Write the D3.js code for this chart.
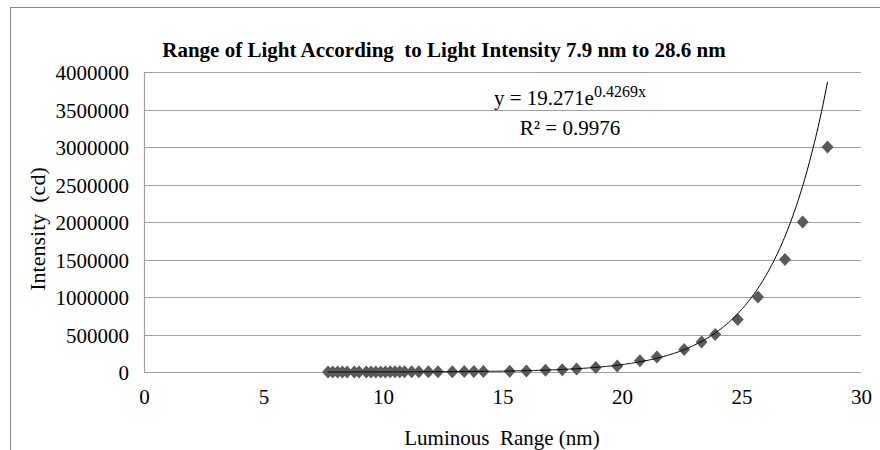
<!DOCTYPE html>
<html>
<head>
<meta charset="utf-8">
<script src="https://cdn.jsdelivr.net/npm/d3@7"></script>
<style>
  body { margin: 0; background: #fff; }
  svg text { font-family: "Liberation Serif", "DejaVu Serif", serif !important; fill: #000; }
</style>
</head>
<body>
<svg width="880" height="450"></svg>
<script>
const svg = d3.select("svg");
const width = +svg.attr("width");
const height = +svg.attr("height");

const margin = { top: 72, right: 19, bottom: 76, left: 144 };
const serif = "'Liberation Serif', 'DejaVu Serif', serif";

// ---- data ----
const luminousRange = [
  7.7, 7.9, 8.1, 8.3, 8.5, 8.8, 9.0, 9.3, 9.5, 9.7, 9.9, 10.1, 10.3, 10.5, 10.7, 10.9,
  11.2, 11.5, 11.9, 12.3, 12.9, 13.4, 13.8, 14.2,
  15.3, 16.0, 16.8, 17.5, 18.1, 18.9, 19.8, 20.75, 21.46, 22.6, 23.33, 23.9,
  24.84, 25.69, 26.82, 27.56, 28.6
];
const intensity = [
  500, 600, 700, 700, 800, 900, 1000, 1000, 1200, 1300, 1500, 1500, 1700, 2000, 2000, 2000,
  2500, 3000, 3000, 4000, 5000, 6000, 7000, 8000,
  10000, 15000, 25000, 30000, 40000, 60000, 80000, 150000, 200000, 300000, 400000, 500000,
  700000, 1000000, 1500000, 2000000, 3000000
];
const xTicks = [0, 5, 10, 15, 20, 25, 30];
const yTicks = [0, 500000, 1000000, 1500000, 2000000, 2500000, 3000000, 3500000, 4000000];

// exponential trendline  y = a * e^(b x)
const trendA = 19.271;
const trendB = 0.4269;
const rSquared = "0.9976";

const points = luminousRange.map((x, i) => ({ x: x, y: intensity[i] }));

const x = d3.scaleLinear().domain([0, 30]).range([margin.left, width - margin.right]);
const y = d3.scaleLinear().domain([0, 4000000]).range([height - margin.bottom - 2, margin.top]);

// chart border (cut off at right/bottom like the reference)
svg.append("rect")
  .attr("x", 10.5).attr("y", 7.5)
  .attr("width", 900).attr("height", 500)
  .attr("fill", "none")
  .attr("stroke", "#8c8c8c");

// gridlines
svg.append("g")
  .selectAll("line")
  .data(yTicks)
  .join("line")
  .attr("x1", x(0)).attr("x2", x(30))
  .attr("y1", d => Math.round(y(d)) + 0.5)
  .attr("y2", d => Math.round(y(d)) + 0.5)
  .attr("stroke", "#a0a0a0")
  .attr("stroke-width", 1.2);

// left axis line
svg.append("line")
  .attr("x1", x(0) + 0.5).attr("x2", x(0) + 0.5)
  .attr("y1", y(4000000)).attr("y2", y(0))
  .attr("stroke", "#a0a0a0")
  .attr("stroke-width", 1.2);

// y tick labels
const yAxis = svg.append("g")
  .attr("transform", `translate(${x(0) - 15},0)`)
  .call(d3.axisLeft(y).tickValues(yTicks).tickSize(0).tickPadding(0).tickFormat(d3.format("d")))
  .attr("font-family", serif)
  .attr("font-size", 21);
yAxis.select(".domain").remove();
yAxis.selectAll("text")
  .attr("dy", "0.36em")
  .style("font-family", serif);

// x tick labels
const xAxis = svg.append("g")
  .attr("transform", `translate(0,${y(0)})`)
  .call(d3.axisBottom(x).tickValues(xTicks).tickSize(0).tickPadding(24))
  .attr("font-family", serif)
  .attr("font-size", 21);
xAxis.select(".domain").remove();
xAxis.selectAll("text")
  .attr("dy", "0.36em")
  .style("font-family", serif);

// data points (diamonds)
const diamond = "M0,-6.5L6,0L0,6.5L-6,0Z";
svg.append("g")
  .selectAll("path")
  .data(points)
  .join("path")
  .attr("d", diamond)
  .attr("transform", d => `translate(${x(d.x)},${y(d.y)})`)
  .attr("fill", "#5a5a5a");

// trendline
const xMin = d3.min(luminousRange);
const xMax = d3.max(luminousRange);
const trend = d3.range(xMin, xMax + 0.001, 0.05).map(v => ({ x: v, y: trendA * Math.exp(trendB * v) }));
svg.append("path")
  .datum(trend)
  .attr("d", d3.line().x(d => x(d.x)).y(d => y(d.y)))
  .attr("fill", "none")
  .attr("stroke", "#000")
  .attr("stroke-width", 1);

// equation label
const eq = svg.append("text")
  .attr("x", 570).attr("y", 105)
  .attr("text-anchor", "middle")
  .attr("font-size", 21)
  .style("font-family", serif);
eq.append("tspan").text(`y = ${trendA}e`);
eq.append("tspan").attr("font-size", 16).attr("dy", -8).text(`${trendB}x`);

svg.append("text")
  .attr("x", 570).attr("y", 135)
  .attr("text-anchor", "middle")
  .attr("font-size", 21)
  .style("font-family", serif)
  .text(`R² = ${rSquared}`);

// title
svg.append("text")
  .attr("x", 444).attr("y", 57)
  .attr("text-anchor", "middle")
  .attr("font-size", 21)
  .attr("font-weight", "bold")
  .style("font-family", serif)
  .style("white-space", "pre")
  .text("Range of Light According  to Light Intensity 7.9 nm to 28.6 nm");

// axis titles
svg.append("text")
  .attr("x", 502).attr("y", 445)
  .attr("text-anchor", "middle")
  .attr("font-size", 21)
  .style("font-family", serif)
  .style("white-space", "pre")
  .text("Luminous  Range (nm)");

svg.append("text")
  .attr("transform", "translate(45,229) rotate(-90)")
  .attr("text-anchor", "middle")
  .attr("font-size", 22)
  .style("font-family", serif)
  .style("white-space", "pre")
  .text("Intensity  (cd)");
</script>
</body>
</html>
